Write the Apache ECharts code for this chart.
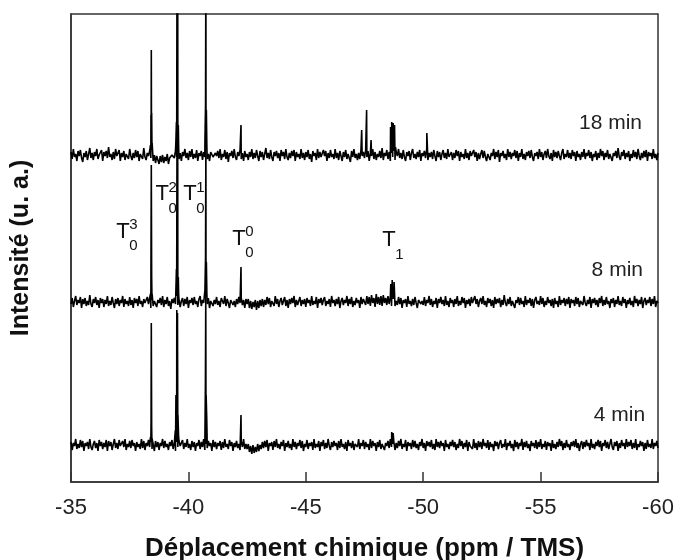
<!DOCTYPE html>
<html>
<head>
<meta charset="utf-8">
<script src="https://cdn.jsdelivr.net/npm/echarts@6/dist/echarts.min.js"></script>
<style>
html,body{margin:0;padding:0;background:#fff;}
#c{width:677px;height:560px;}
</style>
</head>
<body>
<div id="c"></div>
<script>
// ---------- DATA ----------
// spectra sampled evenly from -35 ppm to -60 ppm (one noise value per sample)
const ppmFrom = -35;
const ppmTo = -60;
const xTicks = [-35, -40, -45, -50, -55, -60];

const seriesNames = ['18 min', '8 min', '4 min'];
// vertical stacking offset of each spectrum (arbitrary intensity units)
const baseline18 = 327;
const baseline8 = 180;
const baseline4 = 37;

// baseline noise (offset from baseline)
const noise18 = [
  3,-4,6,-2,1,-6,4,-1,5,-3,-7,2,-2,4,-5,1,7,-3,2,-5,3,-1,6,-4,0,
  -2,5,-6,3,-1,4,-3,8,-2,1,-5,3,-4,6,-1,-3,5,-6,2,-2,4,-5,1,3,-4,
  6,-1,-5,2,-3,5,-2,4,-6,1,3,-4,7,-2,-5,2,-1,4,-3,5,-6,0,-8,-1,-5,
  -9,-1,-7,0,-8,-2,-6,1,-9,-3,-5,0,1,-3,4,-2,5,-4,2,-6,3,-1,6,-3,2,
  -5,4,-2,6,-4,1,-3,5,-6,2,-1,4,-5,3,-2,7,-4,1,-6,3,5,-2,-4,2,-1,
  4,-3,6,-5,1,-2,5,-4,3,-7,2,-1,4,-3,6,-2,-5,3,-1,5,-4,2,-6,4,-2,
  1,-5,3,-2,6,-4,2,-3,5,-1,-6,4,-2,3,-5,1,7,-3,2,-4,5,-2,-6,3,-1,
  4,-3,2,-6,5,-1,3,-4,6,-2,-5,2,-3,4,-1,5,-6,3,-2,1,-4,6,-3,2,-5,
  3,-2,5,-4,1,-7,4,-1,2,-5,6,-3,3,-2,-4,5,-1,4,-6,2,-3,5,-2,1,-4,
  6,-3,2,-5,4,-1,-6,3,-2,5,-4,1,3,-7,4,-2,6,-3,1,-5,2,-4,5,-1,3,
  -3,5,-2,4,-6,2,-1,6,-4,3,-5,1,-2,4,-3,7,-5,2,-1,5,-4,3,-6,2,-2,
  4,-5,3,-1,6,-3,2,-4,5,-2,-6,3,-1,4,-5,2,6,-3,1,-4,3,-2,5,-6,2,
  -1,4,-3,6,-5,2,-2,3,-4,5,-1,-6,4,-2,3,-5,1,5,-3,2,-4,6,-2,-1,3,
  -5,2,-3,5,-1,4,-6,3,-2,1,-4,6,-3,2,-5,4,-1,-3,5,-2,3,-6,2,-4,1,
  5,-3,4,-2,-6,1,3,-5,2,-1,6,-4,3,-2,5,-7,2,-1,4,-3,1,-5,6,-2,3,
  -4,2,-1,5,-3,4,-6,2,-2,6,-4,1,-5,3,-1,4,-3,5,-2,-6,2,-1,3,-4,6,
  -2,3,-5,1,4,-3,6,-1,-4,2,-6,5,-2,3,-3,4,-1,-5,2,6,-4,1,-2,5,-3,
  2,-4,5,-1,3,-6,4,-2,1,-5,3,-2,6,-4,2,-1,5,-3,3,-6,1,-2,4,-5,2,
  -3,6,-1,4,-5,2,-2,5,-4,1,3,-6,2,-1,4,-3,7,-2,-5,3,-1,5,-4,2,-2,
  4,-6,1,-3,5,-2,3,-4,6,-1,-5,2,-3,4,-2,5,-6,3,-1,2,-4,6,-3,1,-5,
  2
];
const noise8 = [
  -2,4,-5,1,6,-3,2,-1,5,-6,3,-2,4,-4,1,-3,7,-2,-5,3,-1,5,-3,2,-6,
  4,-1,3,-5,2,-2,6,-4,1,-3,5,-1,-6,3,-2,4,-4,2,-1,6,-5,3,-2,1,-4,
  5,-3,2,-6,4,-1,3,-4,6,-2,1,-5,3,-1,-3,5,-2,4,-6,2,-4,1,3,-5,2,
  -1,4,-3,6,-5,2,-2,5,-4,1,-7,3,-1,4,-2,6,-3,2,-5,1,4,-4,3,-2,5,
  -6,2,-1,4,-3,5,-2,1,-5,3,6,-4,2,-1,-3,5,-2,4,-6,1,3,-4,2,-2,5,
  -3,1,-5,4,2,-2,6,-4,3,-1,-6,2,4,-3,1,-5,3,-2,5,-1,4,-3,2,-6,3,
  -2,3,-6,1,-7,0,-5,2,-8,1,-6,2,-4,3,-5,2,-3,5,-2,4,-5,1,3,-4,6,
  -2,3,-5,1,4,-3,-1,5,-4,2,-6,3,-2,4,-1,6,-5,2,-3,1,5,-4,2,-2,3,
  -5,4,-1,2,-4,6,-3,1,-2,5,-6,3,-1,4,-3,2,5,-4,1,-2,3,-5,6,-1,2,
  -4,3,-2,5,-6,1,4,-3,2,-1,6,-4,3,-2,5,-5,1,-3,4,-1,2,-6,5,-2,3,
  3,-3,6,-2,5,-4,7,-1,4,-5,8,-2,5,-3,6,-4,7,-1,4,-3,6,-2,5,-4,3,
  3,-4,1,-3,5,-2,4,-6,2,-1,3,-5,6,-2,1,-4,3,-3,5,-1,-6,2,4,-2,1,
  -3,5,-4,2,-1,6,-3,3,-5,1,-2,4,-6,3,-1,5,-2,2,-4,6,-3,1,-5,4,-1,
  2,-5,3,-2,6,-4,1,-3,5,-1,4,-6,2,-2,3,-4,5,-1,-3,6,-2,3,-5,1,4,
  -2,6,-3,1,-5,4,-1,3,-4,2,-6,5,-2,3,-1,4,-5,2,-3,7,-1,-4,3,-2,5,
  -4,1,3,-6,2,-1,5,-3,4,-2,1,-5,6,-3,2,-1,4,-4,3,-6,2,5,-2,1,-3,
  6,-2,4,-5,1,-3,5,-1,2,-4,3,-6,4,-2,1,-5,6,-3,2,-1,4,-4,3,-2,5,
  -6,3,-1,2,-4,5,-2,4,-5,1,3,-3,6,-1,-4,2,-2,5,-6,3,-1,4,-3,2,-5,
  4,-1,6,-4,2,-3,5,-2,1,-6,3,-1,4,-5,2,-2,6,-3,1,-4,5,-1,3,-6,2,
  -2,4,-3,1,-5,6,-1,3,-4,2,-2,5,-6,1,4,-3,2,-1,5,-4,3,-2,6,-5,1,
  -1
];
const noise4 = [
  3,-5,2,-1,6,-4,1,-3,5,-2,4,-6,2,-1,3,-4,6,-2,-5,1,4,-3,2,-6,5,
  -1,3,-4,2,-2,5,-6,4,-1,3,-5,1,6,-3,2,-4,5,-1,-3,4,-2,6,-5,1,-2,
  4,-3,5,-1,2,-6,3,-2,1,-4,6,-3,4,-5,2,-1,5,-2,3,-4,1,-6,4,-2,3,
  -5,2,-1,6,-3,4,-2,1,-5,3,-1,5,-4,2,-6,3,-2,4,-1,-3,5,-4,2,-2,6,
  -3,1,-5,4,-2,3,-6,2,-1,5,-4,3,-2,6,-5,1,-3,4,-1,2,-6,5,-2,3,-4,
  2,-1,4,-5,3,-3,6,-2,1,-4,5,-1,3,-6,2,-2,4,-3,1,-5,3,-2,6,-4,1,
  -4,1,-7,-1,-9,0,-8,-2,-7,1,-6,0,-4,3,-3,4,-2,5,-6,2,-1,3,-5,4,-2,
  6,-3,1,-4,3,-1,5,-6,2,-2,4,-3,1,-5,6,-2,3,-4,2,-1,5,-3,4,-6,1,
  -2,5,-4,2,-1,3,-5,6,-3,1,-2,4,-6,3,-1,5,-4,2,-3,6,-1,-5,3,-2,4,
  -1,2,-5,4,-3,6,-2,1,-4,3,-6,5,-1,2,-3,4,-5,1,3,-2,6,-4,2,-1,5,
  -4,3,-2,1,-5,6,-3,4,-1,2,-6,3,-2,5,-4,1,3,-5,2,-1,4,-3,6,-2,1,
  3,-5,2,-3,4,-1,6,-4,1,-2,5,-6,3,-1,2,-4,5,-2,4,-3,1,-5,3,-1,6,
  -3,2,-6,4,-1,3,-2,5,-4,1,-5,6,-2,3,-3,4,-1,2,-6,5,-2,1,-4,3,-1,
  5,-2,3,-5,1,-3,6,-1,4,-4,2,-2,5,-6,3,-1,1,-4,6,-3,2,-5,4,-2,3,
  -4,6,-1,2,-3,5,-5,3,-2,1,-6,4,-1,3,-4,2,5,-3,1,-2,6,-5,2,-1,4,
  -3,1,-6,5,-2,3,-4,2,-1,6,-5,3,-2,4,-3,1,-6,4,-1,2,-3,5,-4,3,-2,
  6,-4,1,-2,4,-5,3,-1,2,-6,5,-3,1,-4,3,-2,6,-1,4,-5,2,-3,5,-2,1,
  -5,3,-1,4,-2,6,-3,2,-6,1,4,-4,3,-2,5,-1,2,-5,6,-3,1,-4,3,-1,5,
  -2,4,-6,2,-1,5,-3,3,-4,1,6,-2,-5,3,-1,4,-6,2,-3,5,-1,2,-4,6,-2,
  3,-1,5,-4,2,-3,6,-5,1,-2,4,-1,3,-6,2,-4,5,-2,1,-3,6,-4,2,-1,4,
  -3
];

// resonance lines: [ppm, height above baseline]
const peaks18 = [
  [-38.385,10],[-38.405,40],[-38.412,12],[-38.42,105],[-38.428,20],[-38.435,42],[-38.455,12],
  [-39.465,12],[-39.49,33],[-39.515,200],[-39.53,150],[-39.545,200],[-39.57,30],[-39.585,8],
  [-40.705,15],[-40.73,50],[-40.745,200],[-40.765,45],[-40.785,10],
  [-42.24,30],
  [-47.38,25],[-47.59,45],[-47.78,15],
  [-48.61,28],[-48.635,10],[-48.66,33],[-48.69,15],[-48.72,32],[-48.745,12],[-48.78,30],[-48.82,8],
  [-50.155,22]
];
const peaks8 = [
  [-38.385,8],[-38.405,30],[-38.42,137],[-38.435,25],[-38.455,8],
  [-39.465,10],[-39.49,33],[-39.515,170],[-39.53,120],[-39.545,170],[-39.57,25],[-39.585,8],
  [-40.705,12],[-40.73,45],[-40.745,165],[-40.765,40],[-40.785,10],
  [-42.24,35],
  [-48.62,18],[-48.645,8],[-48.68,22],[-48.72,10],[-48.76,20]
];
const peaks4 = [
  [-38.385,8],[-38.41,23],[-38.42,122],[-38.435,18],[-38.455,6],
  [-39.445,15],[-39.47,50],[-39.49,20],[-39.505,135],[-39.52,110],[-39.535,132],[-39.555,30],[-39.58,10],
  [-40.705,12],[-40.725,63],[-40.74,150],[-40.755,50],[-40.78,28],[-40.795,10],
  [-42.24,30],
  [-48.66,13],[-48.72,12]
];

// peak assignment labels: anchor in data coords (ppm, intensity)
const peakLabels = [
  {main:'T', sup:'3', sub:'0', ppm:-37.21, val:250.5},
  {main:'T', sup:'2', sub:'0', ppm:-38.88, val:288},
  {main:'T', sup:'1', sub:'0', ppm:-40.07, val:288},
  {main:'T', sup:'0', sub:'0', ppm:-42.155, val:243.5},
  {main:'T', sup:'',  sub:'1', ppm:-48.54, val:242}
];
const timeLabels = [
  {text:'18 min', ppm:-59.32, val:359},
  {text:'8 min',  ppm:-59.36, val:212},
  {text:'4 min',  ppm:-59.45, val:67}
];

// ---------- BUILD ----------
function buildTrace(noise, base, peaks) {
  const n = noise.length;
  const pts = noise.map((v, i) => [ppmFrom + (ppmTo - ppmFrom) * i / (n - 1), base + v]);
  peaks.forEach(p => pts.push([p[0], base + p[1]]));
  pts.sort((a, b) => b[0] - a[0]);
  return pts;
}
const traces = [
  buildTrace(noise18, baseline18, peaks18),
  buildTrace(noise8, baseline8, peaks8),
  buildTrace(noise4, baseline4, peaks4)
];

const FONT = "'Liberation Sans', Arial, Helvetica, sans-serif";
const chart = echarts.init(document.getElementById('c'));
chart.setOption({
  animation: false,
  backgroundColor: '#fff',
  grid: {
    left: 71, right: 19, top: 14, bottom: 78,
    show: true, borderColor: '#333', borderWidth: 1.5,
    outerBoundsMode: 'none'
  },
  xAxis: {
    type: 'value', min: -60, max: -35, interval: 5, inverse: true,
    axisLine: {show: true, lineStyle: {color: '#333', width: 1.5}},
    axisTick: {show: true, inside: true, length: 10, lineStyle: {color: '#333', width: 1.5}},
    axisLabel: {fontFamily: FONT, fontSize: 22, color: '#222', margin: 15,
      customValues: xTicks},
    splitLine: {show: false},
    name: 'Déplacement chimique (ppm / TMS)',
    nameLocation: 'middle', nameGap: 54,
    nameTextStyle: {fontFamily: FONT, fontSize: 26, fontWeight: 'bold', color: '#111'}
  },
  yAxis: {
    type: 'value', min: 0, max: 468,
    axisLine: {show: true, lineStyle: {color: '#333', width: 1.5}},
    axisTick: {show: false}, axisLabel: {show: false}, splitLine: {show: false},
    name: 'Intensité (u. a.)', nameLocation: 'middle', nameGap: 37,
    nameTextStyle: {fontFamily: FONT, fontSize: 25, fontWeight: 'bold', color: '#111'}
  },
  series: traces.map((d, k) => ({
    name: seriesNames[k], type: 'line', data: d, showSymbol: false, symbol: 'none',
    clip: true, lineStyle: {color: '#000', width: 1.6}, z: 3
  }))
});

// ---------- ANNOTATIONS ----------
const gfx = [];
peakLabels.forEach(l => {
  const p = chart.convertToPixel({gridIndex: 0}, [l.ppm, l.val]);
  gfx.push({type: 'text', x: p[0], y: p[1], z: 10,
    style: {text: l.main, font: '22px ' + FONT, fill: '#111', textAlign: 'center', textVerticalAlign: 'middle'}});
  if (l.sup) gfx.push({type: 'text', x: p[0] + 10.5, y: p[1] - 6.5, z: 10,
    style: {text: l.sup, font: '15px ' + FONT, fill: '#111', textAlign: 'center', textVerticalAlign: 'middle'}});
  if (l.sub) gfx.push({type: 'text', x: p[0] + 10.5, y: p[1] + 14.5, z: 10,
    style: {text: l.sub, font: '15px ' + FONT, fill: '#111', textAlign: 'center', textVerticalAlign: 'middle'}});
});
timeLabels.forEach(l => {
  const p = chart.convertToPixel({gridIndex: 0}, [l.ppm, l.val]);
  gfx.push({type: 'text', x: p[0], y: p[1], z: 10,
    style: {text: l.text, font: '21px ' + FONT, fill: '#222', textAlign: 'right', textVerticalAlign: 'middle'}});
});
chart.setOption({graphic: gfx});
</script>
</body>
</html>
